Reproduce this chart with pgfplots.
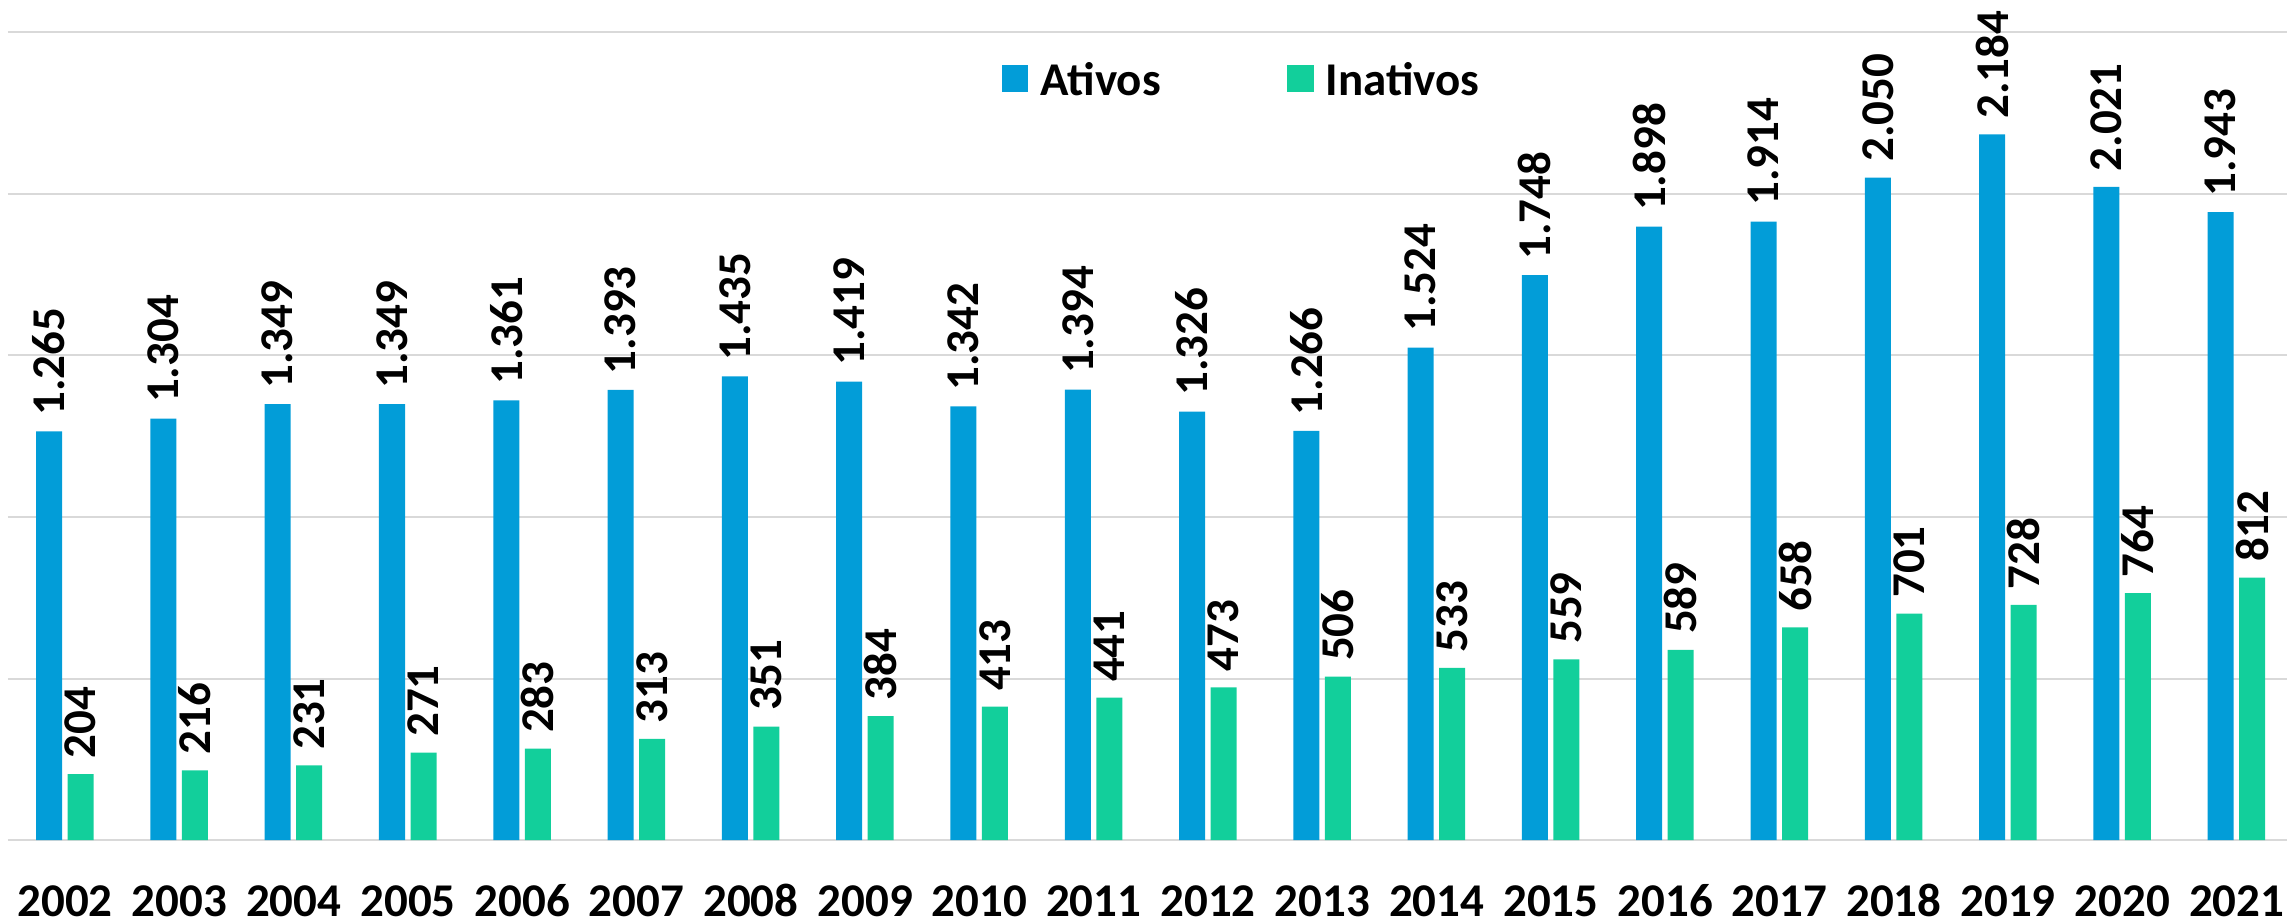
\documentclass[border=0pt]{standalone}
\usepackage{fontspec}
\setmainfont{Carlito}
\usepackage{pgfplots}
\pgfplotsset{compat=1.18}
\definecolor{ativ}{RGB}{2,157,216}
\definecolor{inat}{RGB}{18,207,155}
\definecolor{gridc}{RGB}{217,217,217}
\newcommand{\lblfont}{\fontsize{14}{16}\selectfont\bfseries}
\begin{document}
\begin{tikzpicture}
\useasboundingbox (0,0) rectangle (681.5pt,275.05pt);
\begin{axis}[
  at={(2.38pt,24.7pt)}, anchor=south west,
  scale only axis, width=679.1pt, height=250.3pt,
  xmin=-0.5, xmax=19.44, ymin=0, ymax=2599,
  ybar, bar width=7.75pt,
  xtick={0,...,19},
  xticklabels={2002,2003,2004,2005,2006,2007,2008,2009,2010,2011,2012,2013,2014,2015,2016,2017,2018,2019,2020,2021},
  ytick={0,500,1000,1500,2000,2500}, yticklabels={},
  ymajorgrids, major grid style={gridc, line width=0.6pt},
  axis line style={draw=none}, major tick length=0pt,
  xticklabel style={font=\lblfont, anchor=base, yshift=-22.7pt},
  /pgf/number format/assume math mode=true,
  /pgf/number format/1000 sep={.},
  nodes near coords,
  nodes near coords style={font=\lblfont, rotate=90, anchor=west, inner xsep=4.5pt, inner ysep=0pt, text=black},
  legend style={draw=none, fill=none, at={(0.4357,0.903)}, anchor=west, inner sep=0pt,
    font=\lblfont, nodes={inner sep=0pt},
    /tikz/every odd column/.append style={column sep=3.6pt},
    /tikz/every even column/.append style={column sep=37.5pt}},
  legend columns=2,
]
\addplot[fill=ativ, draw=none, bar shift=-4.77pt,
  legend image code/.code={\fill[ativ] (0pt,-3pt) rectangle (8pt,5pt);}]
  coordinates {(0,1265) (1,1304) (2,1349) (3,1349) (4,1361) (5,1393) (6,1435) (7,1419) (8,1342) (9,1394)
  (10,1326) (11,1266) (12,1524) (13,1748) (14,1898) (15,1914) (16,2050) (17,2184) (18,2021) (19,1943)};
\addplot[fill=inat, draw=none, bar shift=4.62pt,
  legend image code/.code={\fill[inat] (0pt,-3pt) rectangle (8pt,5pt);}]
  coordinates {(0,204) (1,216) (2,231) (3,271) (4,283) (5,313) (6,351) (7,384) (8,413) (9,441)
  (10,473) (11,506) (12,533) (13,559) (14,589) (15,658) (16,701) (17,728) (18,764) (19,812)};
\legend{Ativos, Inativos}
\end{axis}
\end{tikzpicture}
\end{document}
